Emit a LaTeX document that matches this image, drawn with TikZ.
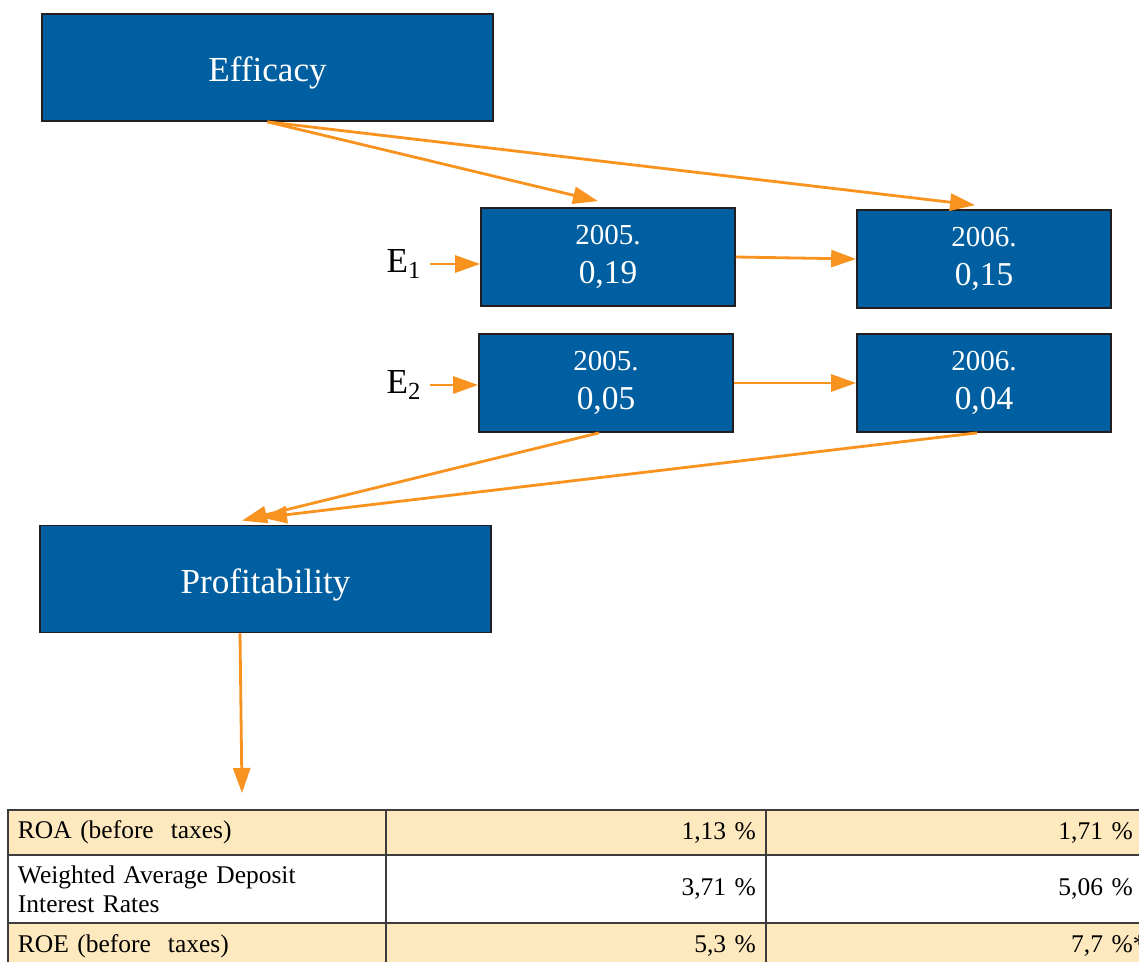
\documentclass[tikz,border=0pt]{standalone}
\usepackage{fontspec}
\setmainfont{Liberation Serif}
\usetikzlibrary{arrows.meta,positioning}
\definecolor{blocC}{RGB}{0,95,160}
\definecolor{bordC}{RGB}{35,31,32}
\definecolor{flecheC}{RGB}{247,147,30}
\definecolor{tabC}{RGB}{254,232,190}
\definecolor{ligneC}{RGB}{60,60,60}
\newcommand{\anval}[2]{{\fontsize{16.5}{22}\selectfont #1}\\#2}
\tikzset{
  bloc/.style={rectangle, draw=bordC, line width=1pt, fill=blocC, text=white, align=center,
               minimum width=9.02cm, minimum height=2.14cm, text height=16.5pt, text depth=0pt,
               font=\fontsize{20}{24}\selectfont},
  annee/.style={rectangle, draw=bordC, line width=1pt, fill=blocC, text=white, align=center,
                minimum width=5.08cm, minimum height=1.96cm, inner sep=0pt,
                font=\fontsize{19}{22}\selectfont},
  lbl/.style={font=\fontsize{20}{24}\selectfont, inner sep=1pt},
  cellule/.style={rectangle, draw=ligneC, line width=0.9pt, fill=#1, outer sep=0pt,
                  inner xsep=0.2cm, inner ysep=0pt, font=\fontsize{14.5}{16.5}\selectfont},
  arr/.style={-{Triangle[length=5mm,width=3.4mm]}, line width=1.6pt, draw=flecheC},
}

\begin{document}
\begin{tikzpicture}[x=0.02cm, y=-0.02cm]
  \useasboundingbox (0,0) rectangle (1139,962);
  \clip (0,0) rectangle (1139,962);
  % blocs
  \node[bloc] (eff) at (267.5,67.5) {Efficacy};
  \node[annee] (a05) at (608,257) {\anval{2005.}{0,19}};
  \node[annee] (a06) at (984,259) {\anval{2006.}{0,15}};
  \node[annee] (b05) at (606,383) {\anval{2005.}{0,05}};
  \node[annee] (b06) at (984,383) {\anval{2006.}{0,04}};
  \node[bloc] (prof) at (265.5,579) {Profitability};
  \node[lbl] (e1) at (404,264) {E\textsubscript{1}};
  \node[lbl] (e2) at (404,385) {E\textsubscript{2}};
  \coordinate (tabtop) at (242,793);

  % tableau
  \node[cellule=tabC, text width=7.16cm, minimum height=0.9cm, align=left, anchor=north west]
    (roa) at (8,810) {ROA (before\ \ taxes)};
  \node[cellule=tabC, text width=7.2cm, minimum height=0.9cm, align=right, right=0pt of roa]
    (roa05) {1,13 \%};
  \node[cellule=tabC, text width=7.14cm, minimum height=0.9cm, align=right, right=0pt of roa05]
    (roa06) {1,71 \%};
  \node[cellule=white, text width=7.16cm, minimum height=1.36cm, align=left, below=0pt of roa]
    (wadr) {Weighted Average Deposit\\Interest Rates};
  \node[cellule=white, text width=7.2cm, minimum height=1.36cm, align=right, right=0pt of wadr]
    (wadr05) {3,71 \%};
  \node[cellule=white, text width=7.14cm, minimum height=1.36cm, align=right, right=0pt of wadr05]
    (wadr06) {5,06 \%};
  \node[cellule=tabC, text width=7.16cm, minimum height=0.92cm, align=left, below=0pt of wadr]
    (roe) {ROE (before\ \ taxes)};
  \node[cellule=tabC, text width=7.2cm, minimum height=0.92cm, align=right, right=0pt of roe]
    (roe05) {5,3 \%};
  \node[cellule=tabC, text width=7.14cm, minimum height=0.92cm, align=right, right=0pt of roe05]
    (roe06) {7,7 \%\rlap{*}};

  % fleches
  \draw[arr] (eff.south) -- ([xshift=-0.2cm,yshift=0.12cm]a05.north);
  \draw[arr] (eff.south) -- ([xshift=-0.18cm,yshift=0.08cm]a06.north);
  \draw[arr, shorten <=4pt] (e1.east) -- (a05.west |- e1.east);
  \draw[arr, shorten <=4pt] (e2.east) -- (b05.west |- e2.east);
  \draw[arr] (a05.east) -- (a06.west);
  \draw[arr] (b05.east) -- (b06.west);
  \draw[arr] ([xshift=-0.14cm]b05.south) -- ([xshift=-0.47cm,yshift=0.08cm]prof.north);
  \draw[arr] ([xshift=-0.14cm]b06.south) -- ([xshift=-0.07cm,yshift=0.14cm]prof.north);
  \draw[arr] ([xshift=-0.51cm]prof.south) -- (tabtop);
\end{tikzpicture}
\end{document}
